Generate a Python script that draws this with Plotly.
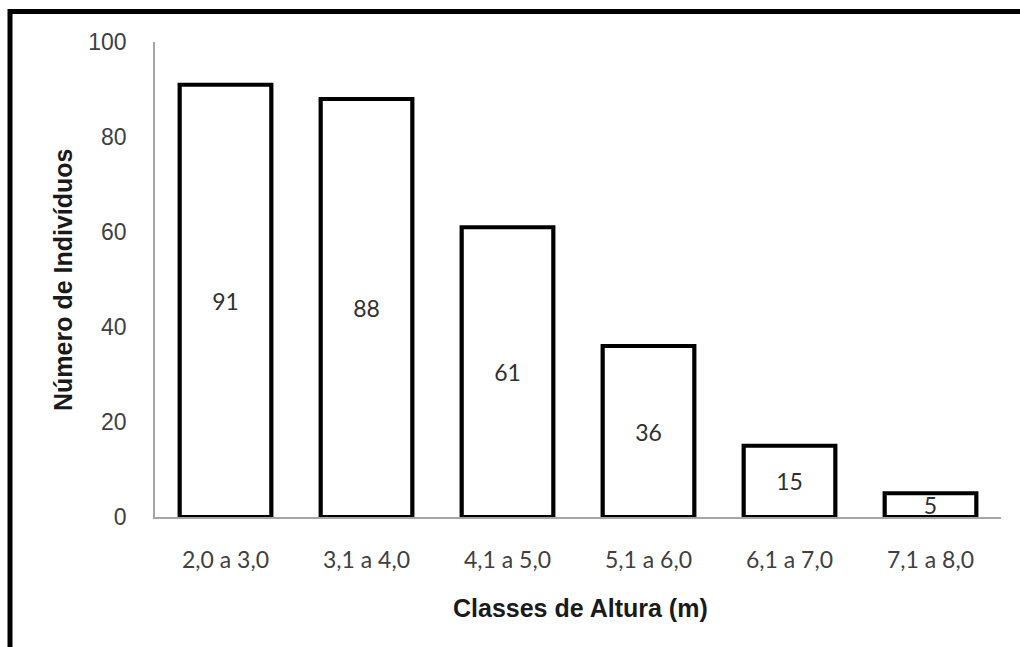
import plotly.graph_objects as go

categories = ["2,0 a 3,0", "3,1 a 4,0", "4,1 a 5,0", "5,1 a 6,0", "6,1 a 7,0", "7,1 a 8,0"]
values = [91, 88, 61, 36, 15, 5]
y_ticks = [0, 20, 40, 60, 80, 100]
x_title = "Classes de Altura (m)"
y_title = "Número de Indivíduos"

W, H = 1020, 647
L, R, T, B = 155, W - 1001, 42, H - 517
pw, ph = W - L - R, H - T - B
def px(x): return (x - L) / pw
def py(y): return (H - B - y) / ph

fig = go.Figure(go.Bar(
    x=categories, y=values,
    marker=dict(color="white", line=dict(color="black", width=4.2)),
    text=[str(v) for v in values],
    textposition="inside", insidetextanchor="middle", textangle=0,
    textfont=dict(family="Lato, Open Sans, sans-serif", size=23, color="#303030"),
    constraintext="none",
))

fig.update_layout(
    width=W, height=H,
    margin=dict(l=L, r=R, t=T, b=B, autoexpand=False),
    paper_bgcolor="white", plot_bgcolor="white",
    bargap=0.35, showlegend=False,
    font=dict(family="Lato, Open Sans, sans-serif", color="#404040"),
    xaxis=dict(showline=True, linecolor="#a6a6a6", linewidth=1.5, ticks="", automargin=False,
               ticklabelstandoff=22,
               tickfont=dict(family="Lato, Open Sans, sans-serif", size=23, color="#404040")),
    yaxis=dict(range=[0, 100], tickvals=y_ticks, showgrid=False, zeroline=False, automargin=False,
               showline=True, linecolor="#a6a6a6", linewidth=1.5, ticks="",
               ticklabelstandoff=22,
               tickfont=dict(family="Liberation Sans, Arial, sans-serif", size=23, color="#404040")),
    annotations=[
        dict(text="<b>" + x_title + "</b>", xref="paper", yref="paper", x=px(580), y=py(608),
             showarrow=False, xanchor="center", yanchor="middle",
             font=dict(family="Liberation Sans, Arial, sans-serif", size=25, color="#1a1a1a")),
        dict(text="<b>" + y_title + "</b>", xref="paper", yref="paper", x=px(63), y=py(280),
             showarrow=False, xanchor="center", yanchor="middle", textangle=-90,
             font=dict(family="Liberation Sans, Arial, sans-serif", size=25, color="#1a1a1a")),
    ],
    shapes=[
        dict(type="line", xref="paper", yref="paper", x0=px(8), x1=px(1030), y0=py(11.5), y1=py(11.5),
             line=dict(color="black", width=5)),
        dict(type="line", xref="paper", yref="paper", x0=px(10), x1=px(10), y0=py(9), y1=py(660),
             line=dict(color="black", width=5)),
    ],
)

fig.write_html(
    "out.html",
    config={"displayModeBar": False},
    post_script="document.body.style.margin='0';document.body.style.overflow='hidden';",
)
